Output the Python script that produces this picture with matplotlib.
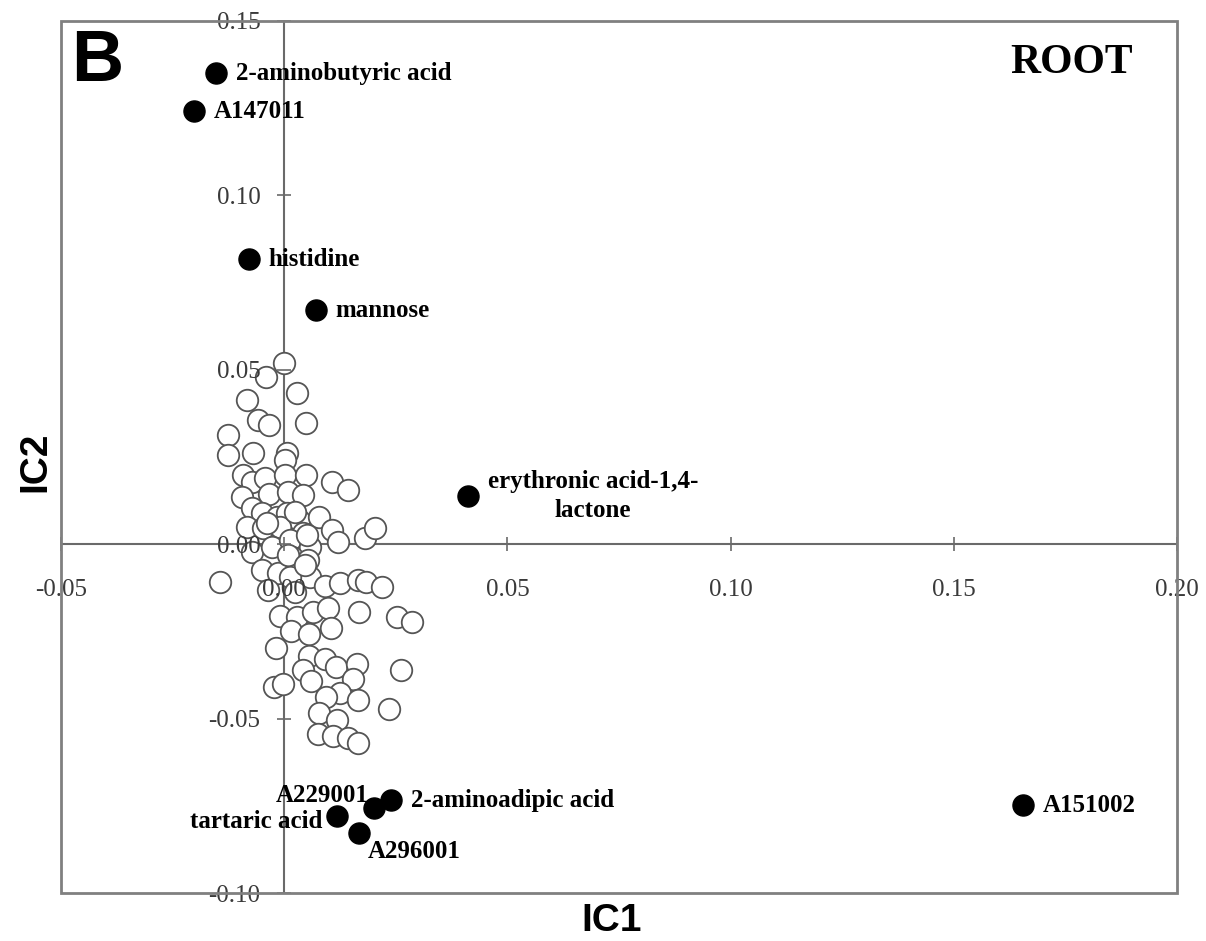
import matplotlib
matplotlib.use('Agg')
import matplotlib.pyplot as plt
from matplotlib.patches import Rectangle

# open circles (unlabelled metabolites)
ic1_open = [0.0000, -0.0040, 0.0029, -0.0083, -0.0058, -0.0034, 0.0049, -0.0125, -0.0125, -0.0069,
            0.0007, 0.0002, -0.0092, -0.0072, -0.0043, 0.0002, 0.0049, 0.0108, 0.0143, -0.0094,
            -0.0034, 0.0009, 0.0043, -0.0072, -0.0049, -0.0016, 0.0007, 0.0034, 0.0078, -0.0083,
            -0.0047, -0.0009, 0.0043, 0.0108, 0.0121, 0.0181, 0.0204, -0.0072, -0.0027, 0.0013,
            0.0058, 0.0018, -0.0049, -0.0013, 0.0054, -0.0143, 0.0058, 0.0092, 0.0125, 0.0166,
            0.0184, 0.0220, 0.0013, -0.0036, 0.0025, -0.0009, 0.0029, 0.0065, 0.0099, 0.0168,
            0.0253, 0.0287, 0.0016, 0.0056, 0.0105, -0.0018, 0.0056, 0.0092, 0.0116, 0.0164,
            0.0262, 0.0043, 0.0060, 0.0155, -0.0022, -0.0002, 0.0125, 0.0094, 0.0166, 0.0235,
            0.0078, 0.0119, 0.0076, 0.0110, 0.0143, 0.0166, 0.0025, -0.0038, 0.0052, 0.0009,
            0.0047]
ic2_open = [0.0519, 0.0479, 0.0433, 0.0413, 0.0356, 0.0341, 0.0347, 0.0313, 0.0255, 0.0261,
            0.0261, 0.0241, 0.0198, 0.0178, 0.0189, 0.0198, 0.0198, 0.0178, 0.0155, 0.0135,
            0.0143, 0.0149, 0.0140, 0.0103, 0.0089, 0.0077, 0.0089, 0.0069, 0.0077, 0.0049,
            0.0046, 0.0049, 0.0032, 0.0040, 0.0006, 0.0017, 0.0046, -0.0023, -0.0009, 0.0011,
            -0.0009, -0.0037, -0.0075, -0.0083, -0.0046, -0.0109, -0.0095, -0.0120, -0.0112, -0.0103,
            -0.0109, -0.0123, -0.0095, -0.0132, -0.0138, -0.0206, -0.0209, -0.0195, -0.0183, -0.0195,
            -0.0209, -0.0224, -0.0249, -0.0258, -0.0241, -0.0298, -0.0321, -0.0330, -0.0353, -0.0344,
            -0.0361, -0.0361, -0.0393, -0.0387, -0.0410, -0.0401, -0.0427, -0.0439, -0.0447, -0.0473,
            -0.0485, -0.0505, -0.0545, -0.0550, -0.0556, -0.0571, 0.0092, 0.0060, 0.0026, -0.0032,
            -0.0060]

# labelled metabolites
names = ['2-aminobutyric acid', 'A147011', 'histidine', 'mannose',
         'erythronic acid-1,4-\nlactone', 'A151002', '2-aminoadipic acid',
         'A229001', 'tartaric acid', 'A296001']
ic1_named = [-0.0152, -0.0202, -0.0078, 0.0072, 0.0412, 0.1655, 0.0240, 0.0202, 0.0119, 0.0168]
ic2_named = [0.1350, 0.1241, 0.0817, 0.0671, 0.0138, -0.0748, -0.0734, -0.0757, -0.0780, -0.0829]

xticks = [-0.05, 0.00, 0.05, 0.10, 0.15, 0.20]
yticks = [-0.10, -0.05, 0.00, 0.05, 0.10, 0.15]

# label placement: (dx, dy) in points, ha
label_pos = {
    'A229001': (-4, 9, 'right'),
    'tartaric acid': (-11, -4, 'right'),
    'A296001': (6, -13, 'left'),
}

serif = 'Liberation Serif'
sans = 'Liberation Sans'

fig = plt.figure(figsize=(12.06, 9.41), dpi=100)
ax = fig.add_axes([0.0506, 0.051, 0.9254, 0.9267])
ax.set_xlim(-0.05, 0.20)
ax.set_ylim(-0.10, 0.15)

# axes cross at zero
ax.spines['left'].set_position(('data', 0))
ax.spines['bottom'].set_position(('data', 0))
for s in ax.spines.values():
    s.set_visible(False)
ax.add_patch(Rectangle((0, 0), 1, 1, transform=ax.transAxes, fill=False,
                       edgecolor='#808080', linewidth=2.0, clip_on=False, zorder=5))
ax.axhline(0, color='#6a6a6a', linewidth=1.5, zorder=1)
ax.axvline(0, color='#6a6a6a', linewidth=1.5, zorder=1)

ax.set_xticks(xticks)
ax.set_yticks(yticks)
ax.set_xticklabels(['%.2f' % t for t in xticks])
ax.set_yticklabels(['%.2f' % t for t in yticks])
ax.tick_params(axis='x', direction='inout', length=10, width=1.2, color='#6a6a6a',
               pad=20, labelsize=18, labelcolor='#3a3a3a')
ax.tick_params(axis='y', direction='inout', length=10, width=1.2, color='#6a6a6a',
               pad=12, labelsize=18, labelcolor='#3a3a3a')
for lab in ax.get_xticklabels() + ax.get_yticklabels():
    lab.set_family(serif)
ax.xaxis.set_zorder(4)
ax.yaxis.set_zorder(4)

ax.scatter(ic1_open, ic2_open, s=240, facecolor='white', edgecolor='#555555',
           linewidth=1.3, zorder=3)
ax.scatter(ic1_named, ic2_named, s=230, facecolor='black', edgecolor='black', zorder=3)

for name, x, y in zip(names, ic1_named, ic2_named):
    dx, dy, ha = label_pos.get(name, (14, 0, 'left'))
    ax.annotate(name, (x, y), xytext=(dx, dy), textcoords='offset points',
                ha=ha, va='center', multialignment='center', fontsize=18,
                fontweight='bold', family=serif, zorder=6,
                linespacing=1.3)

fig.text(97 / 1206, 1 - 62 / 941, 'B', fontsize=52, fontweight='bold', family=sans,
         ha='center', va='center')
fig.text(1072 / 1206, 1 - 63 / 941, 'ROOT', fontsize=30, fontweight='bold', family=serif,
         ha='center', va='center')
fig.text(612 / 1206, 1 - 921 / 941, 'IC1', fontsize=28, fontweight='bold', family=sans,
         ha='center', va='center')
fig.text(35 / 1206, 1 - 462 / 941, 'IC2', fontsize=28, fontweight='bold', family=sans,
         ha='center', va='center', rotation=90)

fig.savefig('out.png', dpi=100)
